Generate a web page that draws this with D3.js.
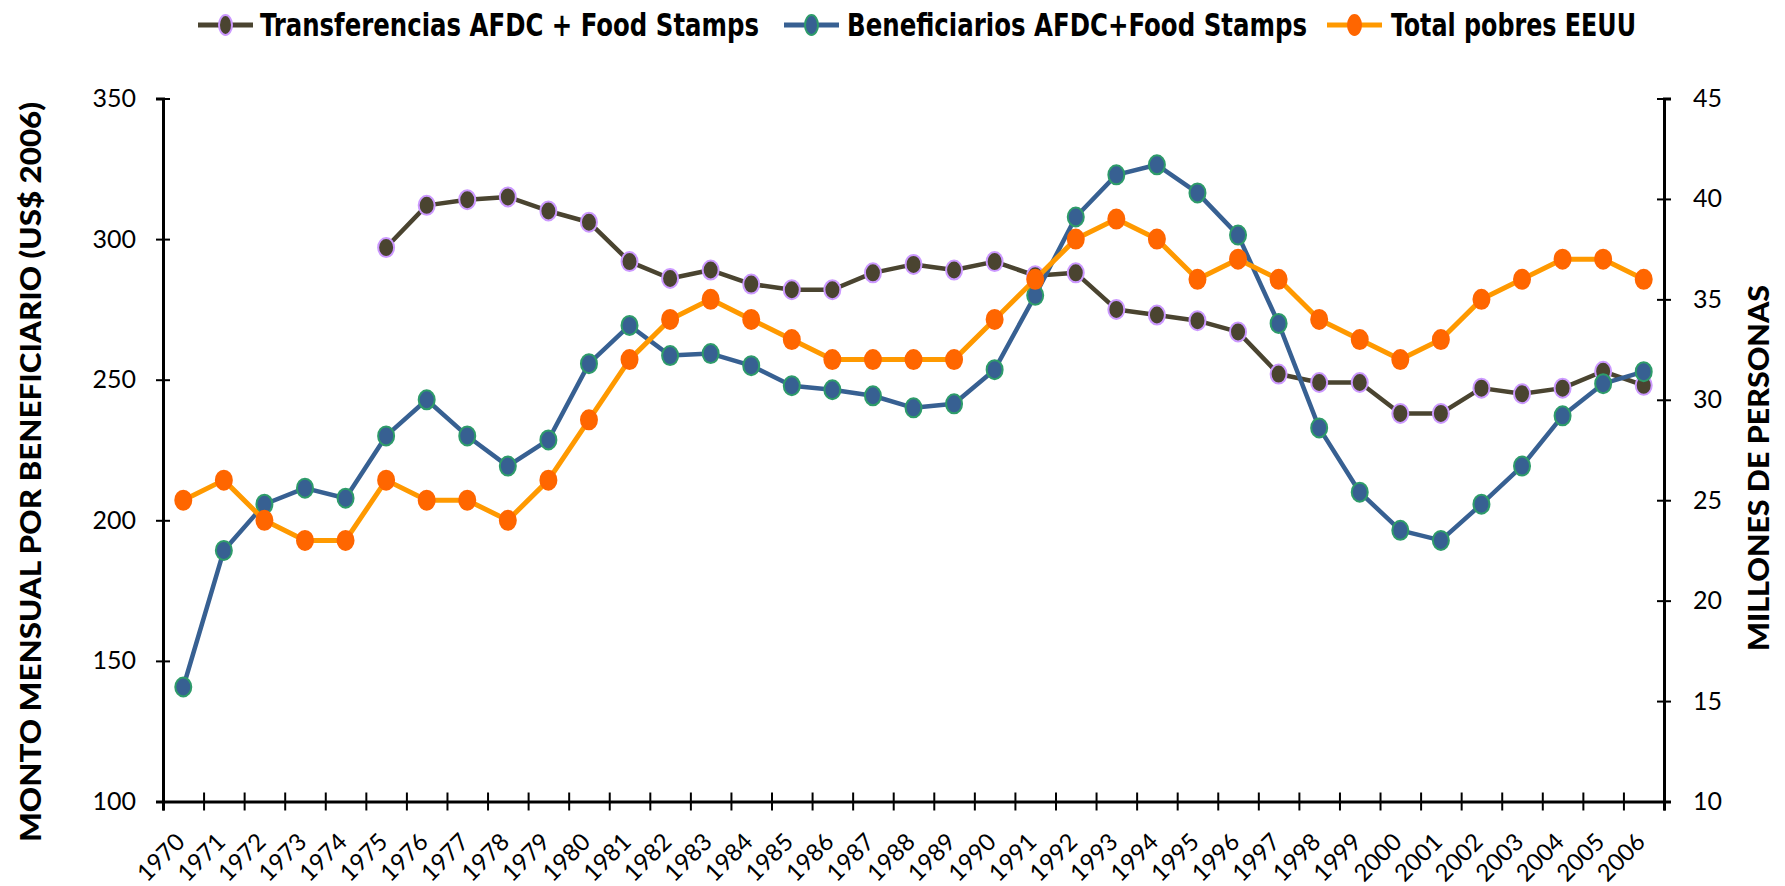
<!DOCTYPE html>
<html>
<head>
<meta charset="utf-8">
<script src="https://cdn.jsdelivr.net/npm/d3@7"></script>
<style>
  body { margin: 0; background: #fff; }
  .tick text { font-family: Lato, "Open Sans", sans-serif; fill: #000; }
</style>
</head>
<body>
<div id="chart"></div>
<script>
// categories (years)
var years = ["1970","1971","1972","1973","1974","1975","1976","1977","1978","1979",
  "1980","1981","1982","1983","1984","1985","1986","1987","1988","1989",
  "1990","1991","1992","1993","1994","1995","1996","1997","1998","1999",
  "2000","2001","2002","2003","2004","2005","2006"];

// left axis: US$ 2006 per beneficiary per month
var transferencias = [null, null, null, null, null, 297, 312, 314, 315, 310,
  306, 292, 286, 289, 284, 282, 282, 288, 291, 289,
  292, 287, 288, 275, 273, 271, 267, 252, 249, 249,
  238, 238, 247, 245, 247, 253, 248];

// right axis: millions of people
var beneficiarios = [15.7, 22.5, 24.8, 25.6, 25.1, 28.2, 30.0, 28.2, 26.7, 28.0,
  31.8, 33.7, 32.2, 32.3, 31.7, 30.7, 30.5, 30.2, 29.6, 29.8,
  31.5, 35.2, 39.1, 41.2, 41.7, 40.3, 38.2, 33.8, 28.6, 25.4,
  23.5, 23.0, 24.8, 26.7, 29.2, 30.8, 31.4];

var pobres = [25, 26, 24, 23, 23, 26, 25, 25, 24, 26,
  29, 32, 34, 35, 34, 33, 32, 32, 32, 32,
  34, 36, 38, 39, 38, 36, 37, 36, 34, 33,
  32, 33, 35, 36, 37, 37, 36];

var leftTicks = [100, 150, 200, 250, 300, 350];
var rightTicks = [10, 15, 20, 25, 30, 35, 40, 45];

var seriesNames = ["Transferencias AFDC + Food Stamps", "Beneficiarios AFDC+Food Stamps", "Total pobres EEUU"];

var svgWidth = 1785;
var svgHeight = 886;
var margin = { top: 98.5, right: 121, bottom: 84.5, left: 163 };
var width = svgWidth - margin.left - margin.right;
var height = svgHeight - margin.top - margin.bottom;

var svg = d3.select("#chart").append("svg")
  .attr("width", svgWidth)
  .attr("height", svgHeight);

var chartGroup = svg.append("g")
  .attr("transform", `translate(${margin.left}, ${margin.top})`);

// scales
var x = d3.scaleBand().domain(years).range([0, width]);
var xEdges = d3.scaleLinear().domain([0, years.length]).range([0, width]);
var yLeft = d3.scaleLinear().domain([100, 350]).range([height, 0]);
var yRight = d3.scaleLinear().domain([10, 45]).range([height, 0]);
var cx = d => x(d) + x.bandwidth() / 2;

// left axis
var leftAxis = chartGroup.append("g")
  .call(d3.axisLeft(yLeft).tickValues(leftTicks).tickSize(7).tickPadding(20));
leftAxis.selectAll(".tick line").attr("x1", -7).attr("x2", 7).attr("stroke-width", 2);
leftAxis.select(".domain").attr("stroke-width", 3);
leftAxis.selectAll(".tick text").style("font-size", "25px");

// right axis
var rightAxis = chartGroup.append("g")
  .attr("transform", `translate(${width}, 0)`)
  .call(d3.axisRight(yRight).tickValues(rightTicks).tickSize(7).tickPadding(22));
rightAxis.selectAll(".tick line").attr("x1", -7).attr("x2", 7).attr("stroke-width", 2);
rightAxis.select(".domain").attr("stroke-width", 3);
rightAxis.selectAll(".tick text").style("font-size", "25px");

// bottom axis: tick marks between categories
var edgeAxis = chartGroup.append("g")
  .attr("transform", `translate(0, ${height})`)
  .call(d3.axisBottom(xEdges).ticks(years.length).tickSize(9).tickFormat(""));
edgeAxis.selectAll(".tick line").attr("y1", -9).attr("stroke-width", 2);
edgeAxis.select(".domain").attr("stroke-width", 3);

// bottom axis: rotated year labels
var labelAxis = chartGroup.append("g")
  .attr("transform", `translate(0, ${height})`)
  .call(d3.axisBottom(x).tickSize(0));
labelAxis.select(".domain").remove();
labelAxis.selectAll(".tick text")
  .attr("y", 0).attr("dy", 0)
  .attr("text-anchor", "end")
  .attr("transform", "translate(3, 42) rotate(-45)")
  .style("font-size", "24px");

// series
var series = [
  { name: seriesNames[0], values: transferencias, y: yLeft, line: "#4A4430", fill: "#4A4430", stroke: "#CC99FF", lw: 4.5 },
  { name: seriesNames[1], values: beneficiarios, y: yRight, line: "#376092", fill: "#376092", stroke: "#2E9C6A", lw: 4.5 },
  { name: seriesNames[2], values: pobres, y: yRight, line: "#FF9900", fill: "#FF6600", stroke: "#FF6600", lw: 5 }
];

series.forEach(function(s) {
  var pts = years.map((yr, i) => ({ year: yr, v: s.values[i] }));
  var line = d3.line()
    .defined(d => d.v != null)
    .x(d => cx(d.year))
    .y(d => s.y(d.v));

  chartGroup.append("path")
    .datum(pts)
    .attr("fill", "none")
    .attr("stroke", s.line)
    .attr("stroke-width", s.lw)
    .attr("stroke-linejoin", "round")
    .attr("d", line);

  chartGroup.append("g").selectAll("ellipse")
    .data(pts.filter(d => d.v != null))
    .enter()
    .append("ellipse")
    .attr("cx", d => cx(d.year))
    .attr("cy", d => s.y(d.v))
    .attr("rx", 8)
    .attr("ry", 9.5)
    .attr("fill", s.fill)
    .attr("stroke", s.stroke)
    .attr("stroke-width", 2);
});

// axis titles
svg.append("text")
  .attr("transform", "translate(41, 472) rotate(-90)")
  .attr("text-anchor", "middle")
  .attr("textLength", 740)
  .attr("lengthAdjust", "spacingAndGlyphs")
  .style("font-family", "Lato, sans-serif")
  .style("font-weight", "900")
  .style("font-size", "29px")
  .text("MONTO MENSUAL POR BENEFICIARIO (US$ 2006)");

svg.append("text")
  .attr("transform", "translate(1769, 468) rotate(-90)")
  .attr("text-anchor", "middle")
  .attr("textLength", 366)
  .attr("lengthAdjust", "spacingAndGlyphs")
  .style("font-family", "Lato, sans-serif")
  .style("font-weight", "900")
  .style("font-size", "29px")
  .text("MILLONES DE PERSONAS");

// legend
var legendItems = [
  { s: series[0], x0: 198, tx: 260, tw: 499 },
  { s: series[1], x0: 784, tx: 847, tw: 460 },
  { s: series[2], x0: 1327, tx: 1391, tw: 245 }
];
var legend = svg.append("g").attr("transform", "translate(0, 25)");
legendItems.forEach(function(it) {
  legend.append("line")
    .attr("x1", it.x0).attr("x2", it.x0 + 55)
    .attr("y1", 0).attr("y2", 0)
    .attr("stroke", it.s.line)
    .attr("stroke-width", 5);
  legend.append("ellipse")
    .attr("cx", it.x0 + 27.5).attr("cy", 0)
    .attr("rx", 6.5).attr("ry", 10)
    .attr("fill", it.s.fill)
    .attr("stroke", it.s.stroke)
    .attr("stroke-width", 2);
  legend.append("text")
    .attr("x", it.tx).attr("y", 11)
    .attr("textLength", it.tw)
    .attr("lengthAdjust", "spacingAndGlyphs")
    .style("font-family", "'Liberation Sans Narrow', 'DejaVu Sans Condensed', sans-serif")
    .style("font-weight", "bold")
    .style("font-size", "32px")
    .text(it.s.name);
});
</script>
</body>
</html>
